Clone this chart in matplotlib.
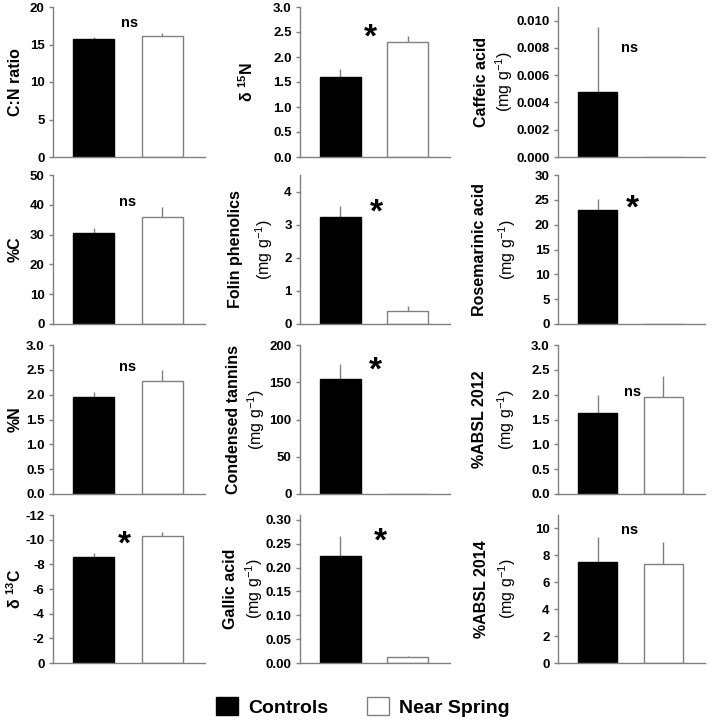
import matplotlib
matplotlib.use("Agg")
import matplotlib.pyplot as plt
import numpy as np
from matplotlib.patches import Patch

plt.rcParams['font.family'] = ['Liberation Sans', 'DejaVu Sans']
plt.rcParams['mathtext.fontset'] = 'custom'
plt.rcParams['mathtext.rm'] = 'Liberation Sans'
plt.rcParams['mathtext.bf'] = 'Liberation Sans:bold'
plt.rcParams['mathtext.default'] = 'regular'

groups = ["Controls", "Near Spring"]

# panel order: row-major, 4 rows x 3 columns
titles = ["C:N ratio", "δ $^{\\mathbf{15}}$N", "Caffeic acid",
          "%C", "Folin phenolics", "Rosemarinic acid",
          "%N", "Condensed tannins", "%ABSL 2012",
          "δ $^{\\mathbf{13}}$C", "Gallic acid", "%ABSL 2014"]
units = [False, False, True,
         False, True, True,
         False, True, True,
         False, True, True]

controls = [15.7, 1.60, 0.00477, 30.5, 3.22, 23.0, 1.95, 155, 1.63, -8.6, 0.225, 7.54]
controls_err = [0.25, 0.17, 0.0048, 1.7, 0.33, 2.1, 0.11, 20, 0.36, 0.32, 0.042, 1.83]
near_spring = [16.1, 2.30, 0.0, 35.8, 0.40, 0.08, 2.27, 0.0, 1.95, -10.3, 0.0135, 7.34]
near_spring_err = [0.45, 0.13, 0.0, 3.3, 0.15, 0.0, 0.22, 0.0, 0.42, 0.32, 0.0008, 1.68]

signif = ["ns", "*", "ns", "ns", "*", "*", "ns", "*", "ns", "*", "*", "ns"]
signif_x = [0.53, 0.45, 0.49, 0.50, 0.53, 0.53, 0.50, 0.52, 0.53, 0.45, 0.60, 0.49]
signif_y = [17.8, 2.6, 0.0080, 41, 3.67, 25.3, 2.56, 180, 2.05, -10.45, 0.277, 9.9]

yticks = [np.arange(0, 21, 5), np.arange(0, 3.01, 0.5), np.arange(0, 0.0101, 0.002),
          np.arange(0, 51, 10), np.arange(0, 4.1, 1), np.arange(0, 31, 5),
          np.arange(0, 3.01, 0.5), np.arange(0, 201, 50), np.arange(0, 3.01, 0.5),
          np.arange(0, -12.1, -2), np.arange(0, 0.301, 0.05), np.arange(0, 10.1, 2)]
ylims = [(0, 20), (0, 3.0), (0, 0.011),
         (0, 50), (0, 4.5), (0, 30),
         (0, 3.0), (0, 200), (0, 3.0),
         (0, -12), (0, 0.31), (0, 11)]
tick_fmt = ["{:.0f}", "{:.1f}", "{:.3f}",
            "{:.0f}", "{:.0f}", "{:.0f}",
            "{:.1f}", "{:.0f}", "{:.1f}",
            "{:.0f}", "{:.2f}", "{:.0f}"]

W, H = 711, 727
fig = plt.figure(figsize=(W / 100, H / 100), dpi=100)

col_left = [53, 300, 558]
col_right = [205, 450, 705]
row_top = [7, 175, 345, 515]
row_bot = [157, 324, 494, 663]
# label x positions (px) for title line and unit line, per panel
title_x = [15, 247, 481,
           15, 236, 480,
           15, 234, 480,
           15, 231, 481]
unit_x = [0, 0, 504,
          0, 264, 507,
          0, 256, 506,
          0, 254, 507]

grey = "#808080"
for i in range(12):
    r, c = divmod(i, 3)
    l, rr = col_left[c], col_right[c]
    t, b = row_top[r], row_bot[r]
    ax = fig.add_axes([l / W, 1 - b / H, (rr - l) / W, (b - t) / H])
    vals = [controls[i], near_spring[i]]
    errs = [controls_err[i], near_spring_err[i]]
    x = np.arange(2)
    ax.bar(x, vals, width=0.6, color=["black", "white"],
           edgecolor=["black", grey], linewidth=1.0, zorder=2)
    lower = [e if v < 0 else 0 for v, e in zip(vals, errs)]
    upper = [e if v >= 0 else 0 for v, e in zip(vals, errs)]
    for xi, v, lo, up in zip(x, vals, lower, upper):
        if lo > 0 or up > 0:
            ax.errorbar([xi], [v], yerr=[[lo], [up]], fmt='none', ecolor=grey,
                        elinewidth=1.0, capsize=0, zorder=1)
    ax.set_xlim(-0.6, 1.63)
    ax.set_ylim(*ylims[i])
    ax.set_yticks(yticks[i])
    ax.set_yticklabels([tick_fmt[i].format(v) if abs(v) > 1e-12 else tick_fmt[i].format(0)
                        for v in yticks[i]], fontweight='bold', fontsize=9.5)
    ax.set_xticks([])
    for s in ["top", "right"]:
        ax.spines[s].set_visible(False)
    for s in ["left", "bottom"]:
        ax.spines[s].set_color(grey)
        ax.spines[s].set_linewidth(1.0)
    ax.tick_params(axis='y', length=3, width=1.0, color=grey, pad=3)
    # labels
    tx = (title_x[i] - l) / (rr - l)
    ax.text(tx, 0.5, titles[i], transform=ax.transAxes, rotation=90,
            ha='center', va='center', fontsize=11.5, fontweight='bold')
    if units[i]:
        ux = (unit_x[i] - l) / (rr - l)
        ax.text(ux, 0.5, "(mg g$^{-1}$)", transform=ax.transAxes, rotation=90,
                ha='center', va='center', fontsize=11.5)
    # significance
    if signif[i] == "*":
        fs = 24
        ax.annotate("*", xy=(signif_x[i], signif_y[i]), xytext=(0, -0.58 * fs),
                    textcoords='offset points', ha='center', va='baseline',
                    fontsize=fs, fontweight='bold')
    else:
        fs = 10.5
        ax.annotate("ns", xy=(signif_x[i], signif_y[i]), xytext=(0, -0.27 * fs),
                    textcoords='offset points', ha='center', va='baseline',
                    fontsize=fs, fontweight='bold')

handles = [Patch(facecolor="black", edgecolor="black", label=groups[0]),
           Patch(facecolor="white", edgecolor=grey, label=groups[1])]
fig.legend(handles=handles, loc='center', bbox_to_anchor=(0.51, 1 - 707 / H),
           ncol=2, frameon=False, prop={'weight': 'bold', 'size': 14},
           handlelength=1.15, handleheight=1.0, handletextpad=0.5,
           columnspacing=2.0)

fig.savefig("out.png", dpi=100)
